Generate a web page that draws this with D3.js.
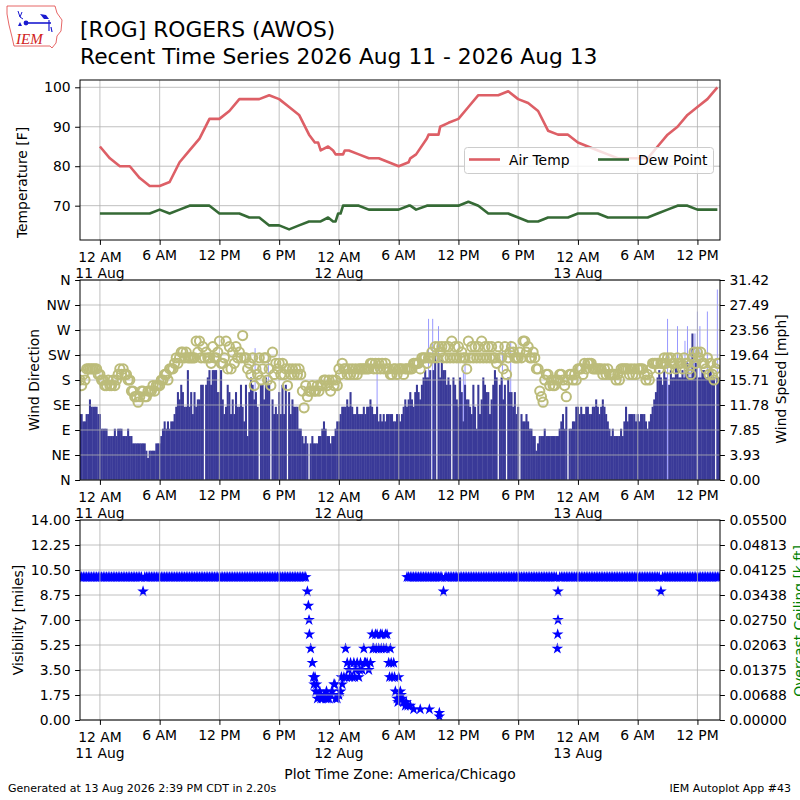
<!DOCTYPE html>
<html>
<head>
<meta charset="utf-8">
<script src="https://cdn.jsdelivr.net/npm/d3@7"></script>
<style>
  body { margin: 0; background: #fff; }
  text { font-family: "DejaVu Sans", sans-serif; }
</style>
</head>
<body>
<svg id="chart" width="800" height="800"></svg>
<script>
// ---- data ----
// hourly-ish observations: temperature / dew point [F]
const obsTimes = [
  "08-11 00:00","08-11 01:00","08-11 02:00","08-11 03:00","08-11 04:00","08-11 05:00","08-11 06:00","08-11 07:00",
  "08-11 08:00","08-11 09:00","08-11 10:00","08-11 11:00","08-11 12:00","08-11 13:00","08-11 14:00","08-11 15:00",
  "08-11 16:00","08-11 17:00","08-11 18:00","08-11 19:00","08-11 20:00","08-11 21:00","08-11 21:35","08-11 21:55",
  "08-11 22:10","08-11 22:55","08-11 23:25","08-11 23:40","08-11 23:55",
  "08-12 00:10","08-12 00:25","08-12 00:35","08-12 01:00","08-12 02:00","08-12 03:00","08-12 04:00","08-12 05:00",
  "08-12 06:00","08-12 07:00","08-12 07:10","08-12 07:45","08-12 08:50","08-12 09:00","08-12 10:00","08-12 10:10",
  "08-12 11:00","08-12 12:00","08-12 13:00","08-12 14:00","08-12 15:00","08-12 16:00","08-12 17:00","08-12 18:00",
  "08-12 19:00","08-12 20:00","08-12 21:00","08-12 22:00","08-12 23:00",
  "08-13 00:00","08-13 01:00","08-13 02:00","08-13 03:00","08-13 04:00","08-13 05:00","08-13 06:00","08-13 07:00",
  "08-13 08:00","08-13 09:00","08-13 10:00","08-13 11:00","08-13 12:00","08-13 13:00","08-13 14:00"
];
const airTemp = [
  85,82,80,80,77,75,75,76,81,84,87,92,92,94,97,97,97,98,97,95,93,88,86,86,84,85,84,83,83,
  83,83,84,84,83,82,82,81,80,81,82,83,87,88,88,90,91,92,95,98,98,98,99,97,96,94,89,88,88,
  86,85,84,83,82,82,82,82,85,88,90,93,95,97,100
];
const dewPoint = [
  68,68,68,68,68,68,69,68,69,70,70,70,68,68,68,67,67,65,65,64,65,66,66,66,66,67,66,66,68,
  68,70,70,70,70,69,69,69,69,70,70,69,70,70,70,70,70,70,71,70,68,68,68,67,66,66,67,67,67,
  68,68,68,67,67,67,67,67,68,69,70,70,69,69,69
];

// 10-minute observations starting 2026-08-10 22:00 (six per hour)
const slotStart = "08-10 22:00";
// sustained wind [kt]; null = missing
const windKt = [
  9,9,8,8,9,9, 11,10,10,10,10,9,
  9,7,7,7,7,6, 6,6,6,7,6,7, 7,7,6,6,6,7, 6,6,5,5,5,5, 5,5,5,5,4,3, 4,4,4,4,5,5,
  5,6,7,8,7,8, 7,8,8,9,10,12, 11,13,12,10,10,15, 10,12,9,12,10,11, 11,13,13,null,13,14, 15,13,15,15,15,12,
  12,15,11,9,10,13, 12,9,11,9,12,10, 10,13,10,8,13,6, 12,14,13,11,12,10, null,13,13,11,14,13, 13,null,11,9,10,9,
  12,9,13,9,13,null, 12,9,11,10,10,10, 7,7,6,5,6,5, null,5,6,5,5,5, 6,6,7,8,7,6, 6,5,6,6,7,8,
  8,9,10,10,10,11, 10,12,10,9,9,10, 9,9,9,10,9,10, 10,11,10,9,9,10, 8,9,8,9,8,9, 9,9,9,8,8,9,
  9,8,9,10,11,10, 11,12,11,10,12,13, 12,11,13,14,15,14, 14,15,null,15,17,null, 16,14,17,15,15,13, 14,13,null,14,13,11,
  10,14,12,8,13,11, 11,10,9,13,10,7, 13,9,11,14,13,12, 12,9,11,13,15,14, null,13,14,11,13,null, 14,12,12,10,12,9,
  10,null,9,8,8,9, 8,7,7,6,6,4, 5,6,6,6,7,6, 6,6,6,6,6,6, 6,7,8,9,7,10, null,7,7,8,8,10,
  10,9,10,9,9,10, 10,9,9,10,10,11, 10,9,10,11,10,9, 8,7,6,7,6,6, 6,6,7,6,8,10, 8,9,9,9,9,8,
  9,8,9,9,9,8, 7,8,9,10,11,12, 14,15,14,13,15,14, null,13,15,14,14,16, 15,14,14,15,14,15, 16,14,14,20,15,16,
  null,14,14,15,15,14, 14,15,15,14,14,null, 14,14
];
// wind direction [deg]
const windDir = [
  180,170,190,180,200,200, 200,200,200,200,200,190,
  190,180,180,170,170,180, 170,170,180,170,180,190, 200,190,200,190,190,180, 180,160,160,150,150,140, 150,160,160,150,150,160, 160,160,170,160,170,170,
  170,180,180,190,190,180, 200,200,200,210,220,210, 220,230,230,220,230,220, 220,220,220,220,250,230, 250,220,240,220,230,220, 220,210,240,220,220,230,
  250,210,210,220,250,200, 240,200,230,210,240,220, 230,220,260,220,220,200, 210,190,220,170,200,190, 220,180,200,220,220,180, 200,170,230,190,210,200,
  210,190,210,190,200,170, 200,190,200,190,200,190, 200,190,160,130,170,150, 160,160,170,160,160,170, 160,170,170,180,180,170, 180,160,180,170,180,170,
  200,190,210,200,200,190, 200,190,200,190,200,190, 200,200,200,200,200,200, 200,210,210,200,210,200, 210,200,210,200,210,200, 200,190,190,200,200,190,
  200,200,200,190,200,200, 200,200,200,210,210,210, 210,200,220,220,220,210, 220,220,230,220,240,220, 240,230,240,220,240,220, 240,220,250,220,240,220,
  240,220,230,220,220,200, 250,220,240,220,240,220, 240,220,250,220,240,220, 240,220,240,220,220,210, 240,220,220,200,240,190, 220,230,240,230,220,220,
  220,230,220,250,250,230, 240,220,220,230,220,200, 200,160,150,140,180,190, 190,170,180,170,170,180, 180,190,190,180,170,150, 180,190,190,180,190,180,
  200,200,200,190,210,200, 210,210,210,200,200,200, 200,200,200,190,200,190, 200,190,190,190,190,180, 190,180,200,200,200,200, 200,190,200,190,200,190,
  200,200,200,200,190,180, 190,180,200,210,210,210, 210,200,210,210,220,210, 220,200,220,210,210,200, 220,210,210,200,220,210, 210,200,190,220,230,210,
  230,220,230,210,210,200, 220,190,210,190,180,200, 210,210
];
// visibility [miles]
const visibility = [
  10,10,10,10,10,10, 10,10,10,10,10,10,
  10,10,10,10,10,10, 10,10,10,10,10,10, 10,10,10,10,10,10, 10,10,10,10,10,10, 10,10,9,10,10,10, 10,10,10,10,10,10,
  10,10,10,10,10,10, 10,10,10,10,10,10, 10,10,10,10,10,10, 10,10,10,10,10,10, 10,10,10,10,10,10, 10,10,10,10,10,10,
  10,10,10,10,10,10, 10,10,10,10,10,10, 10,10,10,10,10,10, 10,10,10,10,10,10, 10,10,10,10,10,10, 10,10,10,10,10,10,
  10,10,10,10,10,10, 10,10,10,10,10,10, 10,10,10,10,10,9, 7,5,4,2.5,2,1.5, 1.75,1.5,1.5,1.75,1.5,1.5, 1.5,1.75,2,2.5,1.5,1.5,
  1.75,2,2.5,3,5,4, 3.5,4,3,4,3.5,4, 3,4,3.5,5,4,4, 3.5,4,6,5,6,6, 5,6,6,5,6,6, 4,5,3,4,2,1.5,
  3,2,1.5,1.25,1,10, 10,10,10,10,10,10, 10,10,10,10,10,10, 10,10,10,10,10,10, 10,10,10,9,10,10, 10,10,10,10,10,10,
  10,10,10,10,10,10, 10,10,10,10,10,10, 10,10,10,10,10,10, 10,10,10,10,10,10, 10,10,10,10,10,10, 10,10,10,10,10,10,
  10,10,10,10,10,10, 10,10,10,10,10,10, 10,10,10,10,10,10, 10,10,10,10,10,10, 9,10,10,10,10,10, 10,10,10,10,10,10,
  10,10,10,10,10,10, 10,10,10,10,10,10, 10,10,10,10,10,10, 10,10,10,10,10,10, 10,10,10,10,10,10, 10,10,10,10,10,10,
  10,10,10,10,10,10, 10,10,10,10,10,10, 10,10,9,10,10,10, 10,10,10,10,10,10, 10,10,10,10,10,10, 10,10,10,10,10,10,
  10,10,10,10,10,10, 10,10,10,10,10,10, 10,10
];
// extra (special) visibility reports
const visExtraTimes = [
  "08-11 20:56","08-11 21:02","08-11 21:26","08-11 21:36","08-11 21:45","08-11 22:05","08-11 22:45","08-11 23:35",
  "08-12 00:15","08-12 00:45","08-12 01:05","08-12 01:35","08-12 02:05","08-12 02:35","08-12 03:25","08-12 03:45",
  "08-12 04:15","08-12 04:45","08-12 05:05","08-12 05:15","08-12 05:35","08-12 05:55","08-12 06:05","08-12 06:15",
  "08-12 06:45","08-12 06:55","08-12 07:10","08-12 07:30","08-12 08:10","08-12 09:05","08-12 10:05","08-12 10:05",
  "08-12 21:56","08-12 21:58","08-12 22:00"
];
const visExtraVals = [
  8,6,3,3,2.5,2,2,2.5,
  3,3,3,3,3.5,4,5,5,
  5,5,3,4,3,1.25,1.5,1.75,
  1.25,1,1,0.75,0.75,0.75,0.5,0.25,
  5,6,7
];
// wind gusts [kt]
const gustTimes = [
  "08-11 11:25","08-11 11:40","08-11 15:35","08-11 16:55","08-12 03:50","08-12 09:00","08-12 09:25","08-12 10:00",
  "08-12 12:30","08-12 12:40","08-12 16:25","08-12 17:15","08-13 09:00","08-13 10:00","08-13 10:45","08-13 11:00",
  "08-13 11:15","08-13 11:45","08-13 12:00","08-13 12:15","08-13 13:00","08-13 14:00"
];
const gustKt = [15,15,18,17,16,22,22,21,15,16,18,19,22,21,19,21,18,20,23,21,23,26];

// axis ticks / labels
const tempTicks = [70, 80, 90, 100];
const dirTicks = [0, 45, 90, 135, 180, 225, 270, 315, 360];
const dirLabels = ["N", "NE", "E", "SE", "S", "SW", "W", "NW", "N"];
const speedTicks = [0, 3.9275, 7.855, 11.7825, 15.71, 19.6375, 23.565, 27.4925, 31.42];
const speedLabels = ["0.00", "3.93", "7.85", "11.78", "15.71", "19.64", "23.56", "27.49", "31.42"];
const visTicks = [0, 1.75, 3.5, 5.25, 7, 8.75, 10.5, 12.25, 14];
const ceilTicks = [0, 0.006875, 0.01375, 0.020625, 0.0275, 0.034375, 0.04125, 0.048125, 0.055];
const ceilLabels = ["0.00000", "0.00688", "0.01375", "0.02063", "0.02750", "0.03438", "0.04125", "0.04813", "0.05500"];
const hourLabels = { 0: "12 AM", 6: "6 AM", 12: "12 PM", 18: "6 PM" };

// ---- setup ----
const KT2MPH = 1.15078;
const parse = d3.timeParse("%Y-%m-%d %H:%M");
const T = s => parse("2026-" + s);
const t0 = T(slotStart);
const slot = i => d3.timeMinute.offset(t0, 10 * i);

const svg = d3.select("#chart");
const L = 80, R = 720, FS = 13.9, TICK = 4.9;
const P1 = { top: 80, bottom: 240 }, P2 = { top: 280, bottom: 480 }, P3 = { top: 520, bottom: 720 };

const x = d3.scaleTime().domain([T("08-10 22:00"), T("08-13 14:16")]).range([L, R]);
const xTicks = d3.timeHour.every(6).range(T("08-11 00:00"), T("08-13 14:00"));
const dayFmt = d3.timeFormat("%-d %b");

const defs = svg.append("defs");
[["c1", P1], ["c2", P2], ["c3", P3]].forEach(([id, p]) => {
  defs.append("clipPath").attr("id", id).append("rect")
    .attr("x", L).attr("y", p.top).attr("width", R - L).attr("height", p.bottom - p.top);
});

function grid(p, y, yVals) {
  const g = svg.append("g").attr("stroke", "#b0b0b0").attr("stroke-width", 0.8);
  xTicks.forEach(t => g.append("line").attr("x1", x(t)).attr("x2", x(t)).attr("y1", p.top).attr("y2", p.bottom));
  yVals.forEach(v => g.append("line").attr("x1", L).attr("x2", R).attr("y1", y(v)).attr("y2", y(v)));
}

function frame(p) {
  svg.append("rect").attr("x", L).attr("y", p.top).attr("width", R - L).attr("height", p.bottom - p.top)
    .attr("fill", "none").attr("stroke", "#000").attr("stroke-width", 1);
}

function xAxis(p) {
  const g = svg.append("g").attr("transform", `translate(0,${p.bottom})`)
    .call(d3.axisBottom(x).tickValues(xTicks).tickSize(TICK).tickFormat(""));
  g.select(".domain").remove();
  xTicks.forEach(t => {
    const h = t.getHours();
    const off = h === 0 ? 1.5 : 0;
    g.append("text").attr("x", x(t)).attr("y", 20 + off).attr("text-anchor", "middle").attr("fill", "#000")
      .style("font-size", FS + "px").text(hourLabels[h]);
    if (h === 0) {
      g.append("text").attr("x", x(t)).attr("y", 37.5).attr("text-anchor", "middle").attr("fill", "#000")
        .style("font-size", FS + "px").text(dayFmt(t));
    }
  });
}

function yAxis(axis, xpos) {
  const g = svg.append("g").attr("transform", `translate(${xpos},0)`).call(axis);
  g.select(".domain").remove();
  g.attr("font-size", FS).attr("font-family", null);
  g.selectAll("text").style("font-size", FS + "px");
  return g;
}

function yTitle(txt, xpos, ypos, color) {
  svg.append("text").attr("transform", `translate(${xpos},${ypos}) rotate(-90)`)
    .attr("text-anchor", "middle").style("font-size", FS + "px").attr("fill", color || "#000").text(txt);
}

// ---- panel 1: temperature ----
const yT = d3.scaleLinear().domain([61.3, 101.85]).range([P1.bottom, P1.top]);
grid(P1, yT, tempTicks);
const obs = obsTimes.map((s, i) => ({ t: T(s), a: airTemp[i], d: dewPoint[i] }));
const g1 = svg.append("g").attr("clip-path", "url(#c1)");
g1.append("path").datum(obs).attr("fill", "none").attr("stroke", "#dd5f66").attr("stroke-width", 2.6)
  .attr("stroke-linejoin", "round")
  .attr("d", d3.line().x(d => x(d.t)).y(d => yT(d.a)));
g1.append("path").datum(obs).attr("fill", "none").attr("stroke", "#356a35").attr("stroke-width", 2.6)
  .attr("stroke-linejoin", "round")
  .attr("d", d3.line().x(d => x(d.t)).y(d => yT(d.d)));
frame(P1);
yAxis(d3.axisLeft(yT).tickValues(tempTicks).tickSize(TICK).tickPadding(4.5), L);
xAxis(P1);
yTitle("Temperature [F]", 27, 182.5);

// legend
const lg = svg.append("g");
lg.append("rect").attr("x", 464.5).attr("y", 147.5).attr("width", 249).attr("height", 26).attr("rx", 3)
  .attr("fill", "#fff").attr("fill-opacity", 0.8).attr("stroke", "#cccccc");
[["Air Temp", "#dd5f66", 469], ["Dew Point", "#356a35", 598]].forEach(([lab, col, lx]) => {
  lg.append("line").attr("x1", lx).attr("x2", lx + 31).attr("y1", 159.5).attr("y2", 159.5)
    .attr("stroke", col).attr("stroke-width", 2.6);
  lg.append("text").attr("x", lx + 40).attr("y", 164.5).style("font-size", FS + "px").text(lab);
});

// ---- panel 2: wind ----
const yDir = d3.scaleLinear().domain([0, 360]).range([P2.bottom, P2.top]);
const ySpd = d3.scaleLinear().domain([0, 31.42]).range([P2.bottom, P2.top]);
const g2 = svg.append("g").attr("clip-path", "url(#c2)");
const winds = windKt.map((k, i) => ({ k, i })).filter(d => d.k != null);
g2.selectAll("line.gust").data(gustTimes.map((s, i) => ({ t: T(s), g: gustKt[i] }))).join("line")
  .attr("x1", d => x(d.t)).attr("x2", d => x(d.t))
  .attr("y1", ySpd(0)).attr("y2", d => ySpd(d.g * KT2MPH))
  .attr("stroke", "#9898ff").attr("stroke-width", 1);
g2.selectAll("rect.spd").data(winds).join("rect")
  .attr("x", d => { const a = x(slot(d.i)), b = x(slot(d.i + 1)); return a - (b - a) / 2 - 0.2; })
  .attr("width", d => x(slot(d.i + 1)) - x(slot(d.i)) + 0.4)
  .attr("y", d => ySpd(d.k * KT2MPH))
  .attr("height", d => ySpd(0) - ySpd(d.k * KT2MPH))
  .attr("fill", "#3a3a98");
grid(P2, yDir, dirTicks);
const g2b = svg.append("g").attr("clip-path", "url(#c2)");
g2b.selectAll("circle").data(windDir.map((v, i) => ({ v, i }))).join("circle")
  .attr("cx", d => x(slot(d.i))).attr("cy", d => yDir(d.v)).attr("r", 4.6)
  .attr("fill", "none").attr("stroke", "#bcbc7a").attr("stroke-width", 2);
frame(P2);
yAxis(d3.axisLeft(yDir).tickValues(dirTicks).tickSize(TICK).tickPadding(4.5).tickFormat((d, i) => dirLabels[i]), L);
yAxis(d3.axisRight(ySpd).tickValues(speedTicks).tickSize(TICK).tickPadding(4.5).tickFormat((d, i) => speedLabels[i]), R);
xAxis(P2);
yTitle("Wind Direction", 38.5, 380);
yTitle("Wind Speed [mph]", 786, 379);

// ---- panel 3: visibility ----
const yVis = d3.scaleLinear().domain([0, 14]).range([P3.bottom, P3.top]);
const yCeil = d3.scaleLinear().domain([0, 0.055]).range([P3.bottom, P3.top]);
const star = d3.symbol().type(d3.symbolStar).size(42);
const visPts = visibility.map((v, i) => ({ t: slot(i), v }))
  .concat(visExtraTimes.map((s, i) => ({ t: T(s), v: visExtraVals[i] })));
const g3 = svg.append("g").attr("clip-path", "url(#c3)");
g3.selectAll("path").data(visPts).join("path")
  .attr("transform", d => `translate(${x(d.t)},${yVis(d.v)})`)
  .attr("d", star).attr("fill", "#0000ff");
grid(P3, yVis, visTicks);
frame(P3);
yAxis(d3.axisLeft(yVis).tickValues(visTicks).tickSize(TICK).tickPadding(4.5).tickFormat(d3.format(".2f")), L);
yAxis(d3.axisRight(yCeil).tickValues(ceilTicks).tickSize(TICK).tickPadding(4.5).tickFormat((d, i) => ceilLabels[i]), R);
xAxis(P3);
yTitle("Visibility [miles]", 22.5, 620);
// the reference shows this label running off the right edge of the image
yTitle("Overcast Ceiling [k ft]", 804, 621, "#008000");

// ---- titles & footer ----
svg.append("text").attr("x", 80).attr("y", 37).style("font-size", "21.8px").text("[ROG] ROGERS (AWOS)");
svg.append("text").attr("x", 80).attr("y", 64).style("font-size", "21.8px")
  .text("Recent Time Series 2026 Aug 11 - 2026 Aug 13");
svg.append("text").attr("x", 400).attr("y", 779).attr("text-anchor", "middle").style("font-size", FS + "px")
  .text("Plot Time Zone: America/Chicago");
svg.append("text").attr("x", 8).attr("y", 792).style("font-size", "11px")
  .text("Generated at 13 Aug 2026 2:39 PM CDT in 2.20s");
svg.append("text").attr("x", 791).attr("y", 792).attr("text-anchor", "end").style("font-size", "11px")
  .text("IEM Autoplot App #43");

// ---- IEM logo ----
const logo = svg.append("g");
logo.append("path")
  .attr("d", "M7,6 L55,6 L57,13 L62,20 L61,31 L57,36 L56,43 L52,48 L50,46 L14,46 L12,37 L9,25 L7,14 Z")
  .attr("fill", "none").attr("stroke", "#e04040").attr("stroke-width", 0.8);
logo.append("line").attr("x1", 24).attr("x2", 51).attr("y1", 23).attr("y2", 23).attr("stroke", "#1a1ad0").attr("stroke-width", 1.6);
logo.append("circle").attr("cx", 26).attr("cy", 23).attr("r", 2.4).attr("fill", "#1a1ad0");
logo.append("path").attr("d", "M18,11 L20,17 L23,19 M20,17 L22,12").attr("fill", "none").attr("stroke", "#1a1ad0").attr("stroke-width", 1);
logo.append("path").attr("d", "M40,14 L46,15 L49,19 L44,19 Z").attr("fill", "#1a1ad0");
logo.append("path").attr("d", "M49,20 L49,31 M51,27 L52,32").attr("fill", "none").attr("stroke", "#1a1ad0").attr("stroke-width", 1.2);
logo.append("path").attr("d", "M20,22 L22,26 L18,26 Z").attr("fill", "#1a1ad0");
logo.append("text").attr("x", 16).attr("y", 44).attr("fill", "#d02020")
  .style("font-family", "'Liberation Serif', serif").style("font-style", "italic").style("font-size", "15px").text("IEM");
</script>
</body>
</html>
